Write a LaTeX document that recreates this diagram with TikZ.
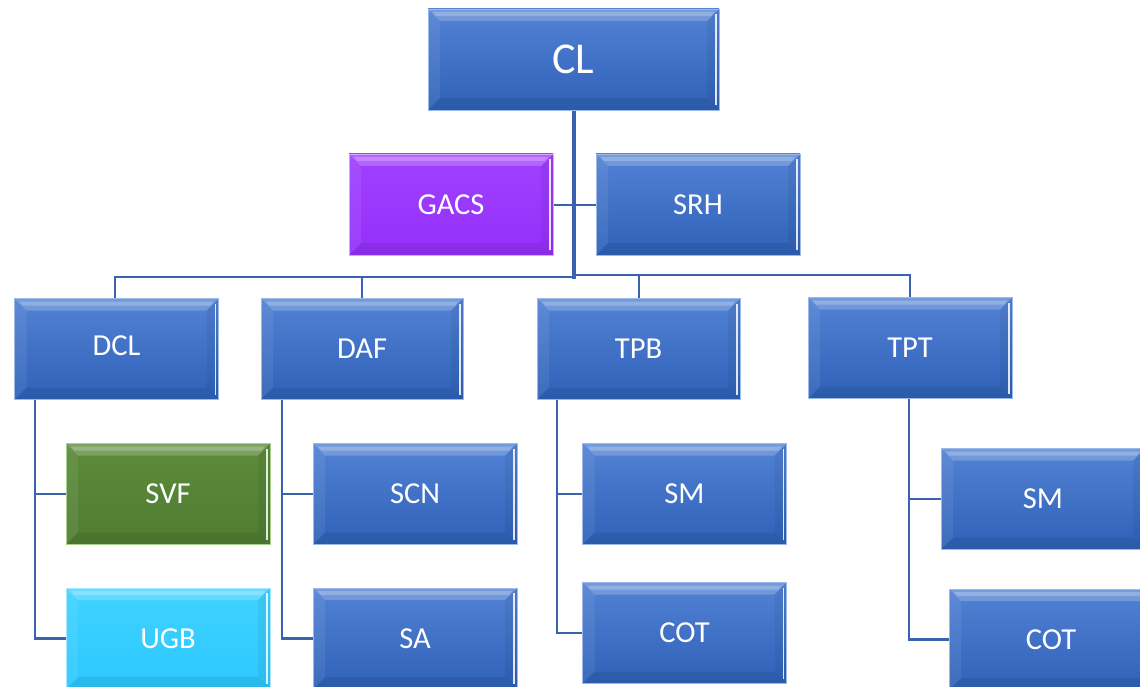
\documentclass[tikz,border=0pt]{standalone}
\usepackage{fontspec}
\setmainfont{Carlito}
\usetikzlibrary{calc}
\definecolor{lineC}{HTML}{3A62AE}
\definecolor{bTop}{HTML}{5282D4}
\definecolor{bBot}{HTML}{2F61B8}
\definecolor{bEdge}{HTML}{9DB9E8}
\definecolor{pTop}{HTML}{A040FF}
\definecolor{pBot}{HTML}{9430FA}
\definecolor{pEdge}{HTML}{D9A3FF}
\definecolor{gTop}{HTML}{5C8C3A}
\definecolor{gBot}{HTML}{507C32}
\definecolor{gEdge}{HTML}{A9D18E}
\definecolor{cTop}{HTML}{40D2FF}
\definecolor{cBot}{HTML}{2CC8FF}
\definecolor{cEdge}{HTML}{A8E8FF}
\tikzset{
  bevbox/.style={rectangle, minimum width=204pt, minimum height=101pt, inner sep=0pt,
    text=white, font=\fontsize{30.5}{32}\selectfont, line width=0.8pt,
    path picture={
      \coordinate (bA) at (path picture bounding box.south west);
      \coordinate (bB) at (path picture bounding box.north east);
      \fill[white,opacity=.2] let \p1=(bA),\p2=(bB) in
        (\x1,\y2) -- (\x2,\y2) -- (\x2-12pt,\y2-12pt) -- (\x1+12pt,\y2-12pt) -- cycle;
      \fill[white,opacity=.22] let \p1=(bA),\p2=(bB) in
        (\x1+5pt,\y2-3pt) -- (\x2-5pt,\y2-3pt) -- (\x2-8pt,\y2-7pt) -- (\x1+8pt,\y2-7pt) -- cycle;
      \fill[white,opacity=.07] let \p1=(bA),\p2=(bB) in
        (\x1,\y2) -- (\x1+12pt,\y2-12pt) -- (\x1+12pt,\y1+12pt) -- (\x1,\y1) -- cycle;
      \fill[black,opacity=.05] let \p1=(bA),\p2=(bB) in
        (\x2,\y2) -- (\x2-12pt,\y2-12pt) -- (\x2-12pt,\y1+12pt) -- (\x2,\y1) -- cycle;
      \draw[white,opacity=.85,line width=1.6pt] let \p1=(bA),\p2=(bB) in
        (\x2-3pt,\y2-5pt) -- (\x2-3pt,\y1+5pt);
      \fill[black,opacity=.07] let \p1=(bA),\p2=(bB) in
        (\x1,\y1) -- (\x2,\y1) -- (\x2-12pt,\y1+12pt) -- (\x1+12pt,\y1+12pt) -- cycle;
    }},
  bluebox/.style={bevbox, draw=bEdge, top color=bTop, bottom color=bBot},
  purplebox/.style={bevbox, draw=pEdge, top color=pTop, bottom color=pBot},
  greenbox/.style={bevbox, draw=gEdge, top color=gTop, bottom color=gBot},
  cyanbox/.style={bevbox, draw=cEdge, top color=cTop, bottom color=cBot},
  conn/.style={draw=lineC, line width=2.8pt},
  trunk/.style={draw=lineC, line width=4pt}
}
\begin{document}
\begin{tikzpicture}[x=1pt,y=-1pt]
\useasboundingbox (0,0) rectangle (1140,687);
\fill[white] (0,0) rectangle (1140,687);

% coordinates for the buses
\coordinate (trunkEnd) at (574,279);
\coordinate (busL) at (574,277);
\coordinate (busR) at (574,275);
\coordinate (dclv) at (35,400);
\coordinate (dafv) at (282,400);
\coordinate (tpbv) at (557,400);
\coordinate (tptv) at (909,399);

% connectors (drawn first, under the boxes)
\coordinate (CLs) at (574,110);
\draw[trunk] (CLs) -- (trunkEnd);
\coordinate (GACSe) at (553,205);
\coordinate (SRHw) at (596,205);
\draw[conn] (GACSe) -- (SRHw);
\coordinate (DCLn) at (115,298);
\coordinate (DAFn) at (362,298);
\coordinate (TPBn) at (639,298);
\coordinate (TPTn) at (910,297);
\draw[conn] (DCLn) |- (busL);
\draw[conn] (DAFn) |- (busL);
\draw[conn] (TPBn) |- (busR);
\draw[conn] (TPTn) |- (busR);

% boxes
\node[bluebox, minimum width=291pt, font=\fontsize{44}{46}\selectfont] (CL) at (573.5,59.5) {CL};
\node[purplebox] (GACS) at (451,204.5) {GACS};
\node[bluebox] (SRH) at (698,204.5) {SRH};

\node[bluebox] (DCL) at (116.5,349) {\raisebox{7pt}{DCL}};
\node[bluebox, minimum width=202pt] (DAF) at (362,349) {DAF};
\node[bluebox, minimum width=203pt] (TPB) at (638.5,349) {TPB};
\node[bluebox] (TPT) at (910,348) {TPT};

\node[greenbox] (SVF) at (168,494) {SVF};
\node[cyanbox] (UGB) at (168,638.5) {UGB};
\node[bluebox] (SCN) at (415,494) {SCN};
\node[bluebox] (SA) at (415,638.5) {SA};
\node[bluebox] (SM1) at (684.5,494) {SM};
\node[bluebox] (COT1) at (684.5,633) {COT};
\node[bluebox] (SM2) at (1043,499) {SM};
\node[bluebox] (COT2) at (1051,639.5) {COT};

% child connectors
\draw[conn] (dclv) |- (UGB.west);
\draw[conn] (dclv |- SVF.west) -- (SVF.west);
\draw[conn] (dafv) |- (SA.west);
\draw[conn] (dafv |- SCN.west) -- (SCN.west);
\draw[conn] (tpbv) |- (COT1.west);
\draw[conn] (tpbv |- SM1.west) -- (SM1.west);
\draw[conn] (tptv) |- (COT2.west);
\draw[conn] (tptv |- SM2.west) -- (SM2.west);
\end{tikzpicture}
\end{document}
